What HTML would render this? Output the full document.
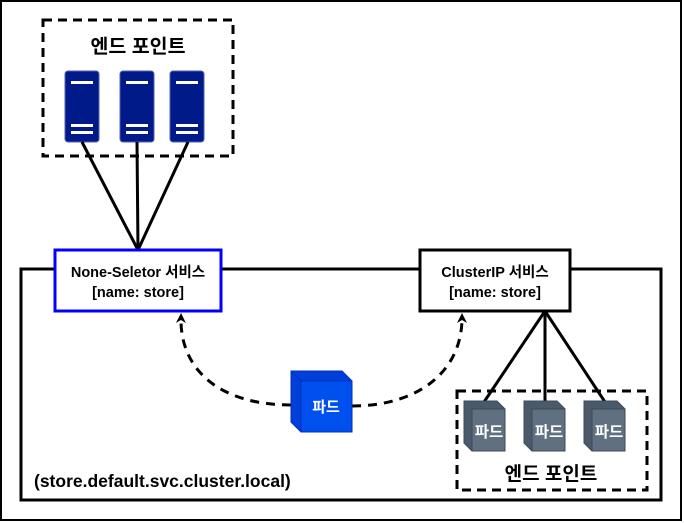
<!DOCTYPE html><html><head><meta charset="utf-8"><style>body{margin:0;background:#fff}svg{display:block}text{font-family:"Liberation Sans","Noto Sans CJK KR",sans-serif;font-weight:bold}</style></head><body>
<svg width="684" height="523" viewBox="0 0 684 523">
<defs><marker id="a" markerWidth="10" markerHeight="10" refX="5" refY="5" orient="auto" markerUnits="userSpaceOnUse"><path d="M0,0 L10,5 L0,10 L3,5 Z" fill="#000"/></marker></defs>
<rect x="1" y="1" width="680" height="519" fill="#fff" stroke="#000" stroke-width="2"/>
<rect x="21" y="269" width="640" height="231" fill="none" stroke="#000" stroke-width="3"/>
<rect x="43" y="20" width="190" height="136" fill="#fff" stroke="#000" stroke-width="3" stroke-dasharray="9,6"/>
<text x="138" y="53" font-size="19.5" text-anchor="middle">엔드 포인트</text>
<g fill="#001a8a" stroke="#5060b0" stroke-width="1">
<rect x="65" y="71" width="34" height="71" rx="3"/><rect x="120" y="71" width="34" height="71" rx="3"/><rect x="170" y="71" width="34" height="71" rx="3"/></g>
<g fill="#fff"><rect x="71" y="81" width="22" height="3"/><rect x="71" y="124" width="22" height="3"/><rect x="71" y="131" width="22" height="3"/>
<rect x="126" y="81" width="22" height="3"/><rect x="126" y="124" width="22" height="3"/><rect x="126" y="131" width="22" height="3"/>
<rect x="176" y="81" width="22" height="3"/><rect x="176" y="124" width="22" height="3"/><rect x="176" y="131" width="22" height="3"/></g>
<g stroke="#000" stroke-width="3"><line x1="82" y1="142" x2="138" y2="250"/><line x1="137" y1="142" x2="138" y2="250"/><line x1="188" y1="142" x2="138" y2="250"/>
<line x1="545" y1="311" x2="484" y2="402"/><line x1="545" y1="311" x2="545" y2="402"/><line x1="545" y1="311" x2="605" y2="402"/></g>
<rect x="55" y="250" width="166" height="61" fill="#fff" stroke="#00f" stroke-width="3"/>
<text x="138" y="277" font-size="14.5" text-anchor="middle">None-Seletor 서비스</text>
<text x="138" y="297" font-size="14.5" text-anchor="middle">[name: store]</text>
<rect x="420" y="250" width="150" height="61" fill="#fff" stroke="#000" stroke-width="3"/>
<text x="495" y="277" font-size="14.5" text-anchor="middle">ClusterIP 서비스</text>
<text x="495" y="297" font-size="14.5" text-anchor="middle">[name: store]</text>
<path d="M291,405 C220,405 180,370 181,318" fill="none" stroke="#000" stroke-width="3" stroke-dasharray="9,7" marker-end="url(#a)"/>
<path d="M352,406 C420,406 462,370 462,318" fill="none" stroke="#000" stroke-width="3" stroke-dasharray="9,7" marker-end="url(#a)"/>
<g stroke="#0030c0"><polygon points="291,371 342,371 352,381 352,432 301,432 291,422" fill="#0040d8"/><rect x="301" y="381" width="51" height="51" fill="#0050f0"/><line x1="291" y1="371" x2="301" y2="381"/></g>
<text x="326" y="412" font-size="15" fill="#fff" text-anchor="middle">파드</text>
<rect x="457" y="391" width="190" height="99" fill="none" stroke="#000" stroke-width="3" stroke-dasharray="9,6"/>
<g stroke="#3a4a5a">
<polygon points="464,401 497,401 505,409 505,451 472,451 464,443" fill="#4a5a6a"/><rect x="472" y="409" width="33" height="42" fill="#607080"/>
<polygon points="524,401 557,401 565,409 565,451 532,451 524,443" fill="#4a5a6a"/><rect x="532" y="409" width="33" height="42" fill="#607080"/>
<polygon points="584,401 617,401 625,409 625,451 592,451 584,443" fill="#4a5a6a"/><rect x="592" y="409" width="33" height="42" fill="#607080"/></g>
<g font-size="15.5" fill="#fff" text-anchor="middle"><text x="489" y="437">파드</text><text x="549" y="437">파드</text><text x="609" y="437">파드</text></g>
<text x="551" y="480" font-size="19" text-anchor="middle">엔드 포인트</text>
<text x="34" y="487" font-size="17.5">(store.default.svc.cluster.local)</text>
</svg></body></html>
